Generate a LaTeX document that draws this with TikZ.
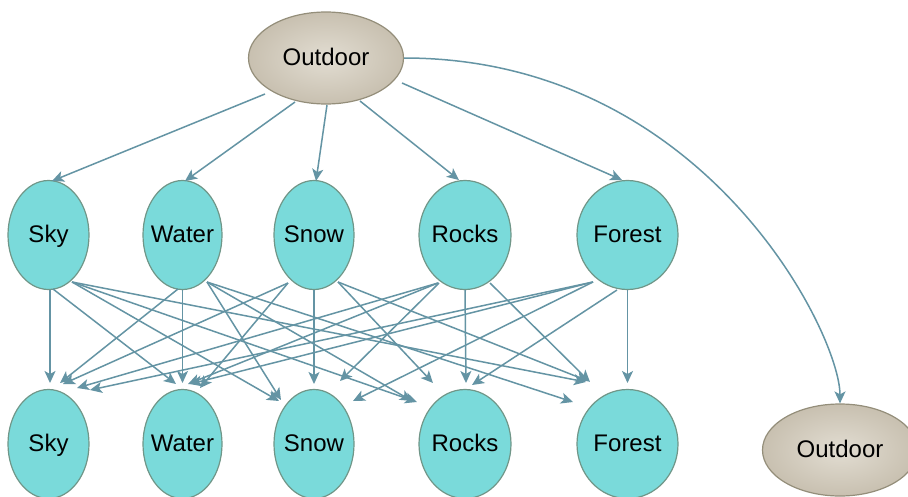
\documentclass[tikz,border=0pt]{standalone}
\usepackage{fontspec}
\setmainfont{Liberation Sans}
\usetikzlibrary{shapes.geometric,arrows.meta,calc}
\definecolor{nodecyan}{RGB}{122,218,218}
\definecolor{cyanedge}{RGB}{112,150,136}
\definecolor{outfillin}{RGB}{226,221,210}
\definecolor{outfillout}{RGB}{200,192,176}
\definecolor{outedge}{RGB}{148,142,122}
\definecolor{linkcol}{RGB}{100,148,164}
\newcommand{\zw}[1]{\makebox[0pt]{#1}}
\begin{document}
\begin{tikzpicture}[x=1pt,y=-1pt,
  varnode/.style={ellipse, draw=cyanedge, line width=1.2pt, fill=nodecyan,
    inner sep=0pt, minimum width=#1, minimum height=109pt,
    font=\fontsize{24}{28}\selectfont, text height=18pt, text depth=3pt},
  scenenode/.style={ellipse, draw=outedge, line width=1.2pt,
    inner color=outfillin, outer color=outfillout,
    inner sep=0pt, minimum width=155pt, minimum height=92pt,
    font=\fontsize{24}{28}\selectfont, text height=18pt, text depth=3pt},
  link/.style={draw=linkcol, line width=1.5pt,
    -{Stealth[length=12pt,width=11pt,inset=3pt]}}]
\useasboundingbox (0,0) rectangle (908,496);
\fill[white] (0,0) rectangle (908,496);

% scene nodes
\node[scenenode] (outT) at (326,58) {\zw{Outdoor}};
\node[scenenode] (outB) at (840,450) {\zw{Outdoor}};

% middle row
\node[varnode=81pt]  (skyM)    at (48.5,235)  {\zw{Sky}};
\node[varnode=79pt]  (waterM)  at (182.5,235) {\zw{Water}};
\node[varnode=80pt]  (snowM)   at (314,235)   {\zw{Snow}};
\node[varnode=92pt]  (rocksM)  at (465,235)   {\zw{Rocks}};
\node[varnode=101pt] (forestM) at (627.5,235) {\zw{Forest}};

% bottom row
\node[varnode=81pt]  (skyB)    at (48.5,444)  {\zw{Sky}};
\node[varnode=79pt]  (waterB)  at (182.5,444) {\zw{Water}};
\node[varnode=80pt]  (snowB)   at (314,444)   {\zw{Snow}};
\node[varnode=92pt]  (rocksB)  at (465,444)   {\zw{Rocks}};
\node[varnode=101pt] (forestB) at (627.5,444) {\zw{Forest}};

% scene to middle row
\draw[link] ($(outT)+(-61,36)$) -- ($(skyM)+(3.5,-54)$);
\draw[link] ($(outT)+(-31,44)$) -- ($(waterM)+(2.5,-54)$);
\draw[link] ($(outT)+(1,47)$)   -- ($(snowM)+(2,-54)$);
\draw[link] ($(outT)+(34,43)$)  -- ($(rocksM)+(-6,-55)$);
\draw[link] ($(outT)+(76,25)$)  -- ($(forestM)+(-5.5,-55)$);
\draw[link] (outT.east) .. controls +(300,0) and +(0,-70) .. (outB.north);

% middle row to bottom row
% from Sky
\draw[link] ($(skyM)+(1.5,55)$) -- ($(skyB)+(1.5,-61)$);
\draw[link] ($(skyM)+(4.5,54)$) -- ($(waterB)+(-6.5,-60)$);
\draw[link] ($(skyM)+(23.5,47)$) -- ($(snowB)+(-35,-43)$);
\draw[link] ($(skyM)+(23.5,47)$) -- ($(rocksB)+(-48,-42)$);
\draw[link] ($(skyM)+(23.5,47)$) -- ($(forestB)+(-41.5,-62)$);
% from Water
\draw[link] ($(waterM)+(-4.5,54)$) -- ($(skyB)+(11.5,-61)$);
\draw[link] ($(waterM)+(0,55)$) -- ($(waterB)+(0,-61)$);
\draw[link] ($(waterM)+(24.5,47)$) -- ($(snowB)+(-33,-44)$);
\draw[link] ($(waterM)+(24.5,47)$) -- ($(rocksB)+(-53,-43)$);
\draw[link] ($(waterM)+(24.5,47)$) -- ($(forestB)+(-54.5,-42)$);
% from Snow
\draw[link] ($(snowM)+(-26,48)$) -- ($(skyB)+(14.5,-60)$);
\draw[link] ($(snowM)+(-26,48)$) -- ($(waterB)+(17.5,-56)$);
\draw[link] ($(snowM)+(0,55)$) -- ($(snowB)+(0,-60)$);
\draw[link] ($(snowM)+(24,47)$) -- ($(rocksB)+(-32,-61)$);
\draw[link] ($(snowM)+(24,47)$) -- ($(forestB)+(-39.5,-63)$);
% from Rocks
\draw[link] ($(rocksM)+(-27,48)$) -- ($(skyB)+(28.5,-56)$);
\draw[link] ($(rocksM)+(-27,48)$) -- ($(waterB)+(5.5,-60)$);
\draw[link] ($(rocksM)+(-26,48)$) -- ($(snowB)+(26,-63)$);
\draw[link] ($(rocksM)+(0,55)$) -- ($(rocksB)+(1,-61)$);
\draw[link] ($(rocksM)+(25,48)$) -- ($(forestB)+(-37.5,-62)$);
% from Forest
\draw[link] ($(forestM)+(-34.5,47)$) -- ($(skyB)+(41.5,-54)$);
\draw[link] ($(forestM)+(-34.5,47)$) -- ($(waterB)+(7.5,-60)$);
\draw[link] ($(forestM)+(-34.5,47)$) -- ($(snowB)+(39,-43)$);
\draw[link] ($(forestM)+(-10.5,55)$) -- ($(rocksB)+(7,-59)$);
\draw[link] ($(forestM)+(0,55)$) -- ($(forestB)+(0,-61)$);
\end{tikzpicture}
\end{document}
